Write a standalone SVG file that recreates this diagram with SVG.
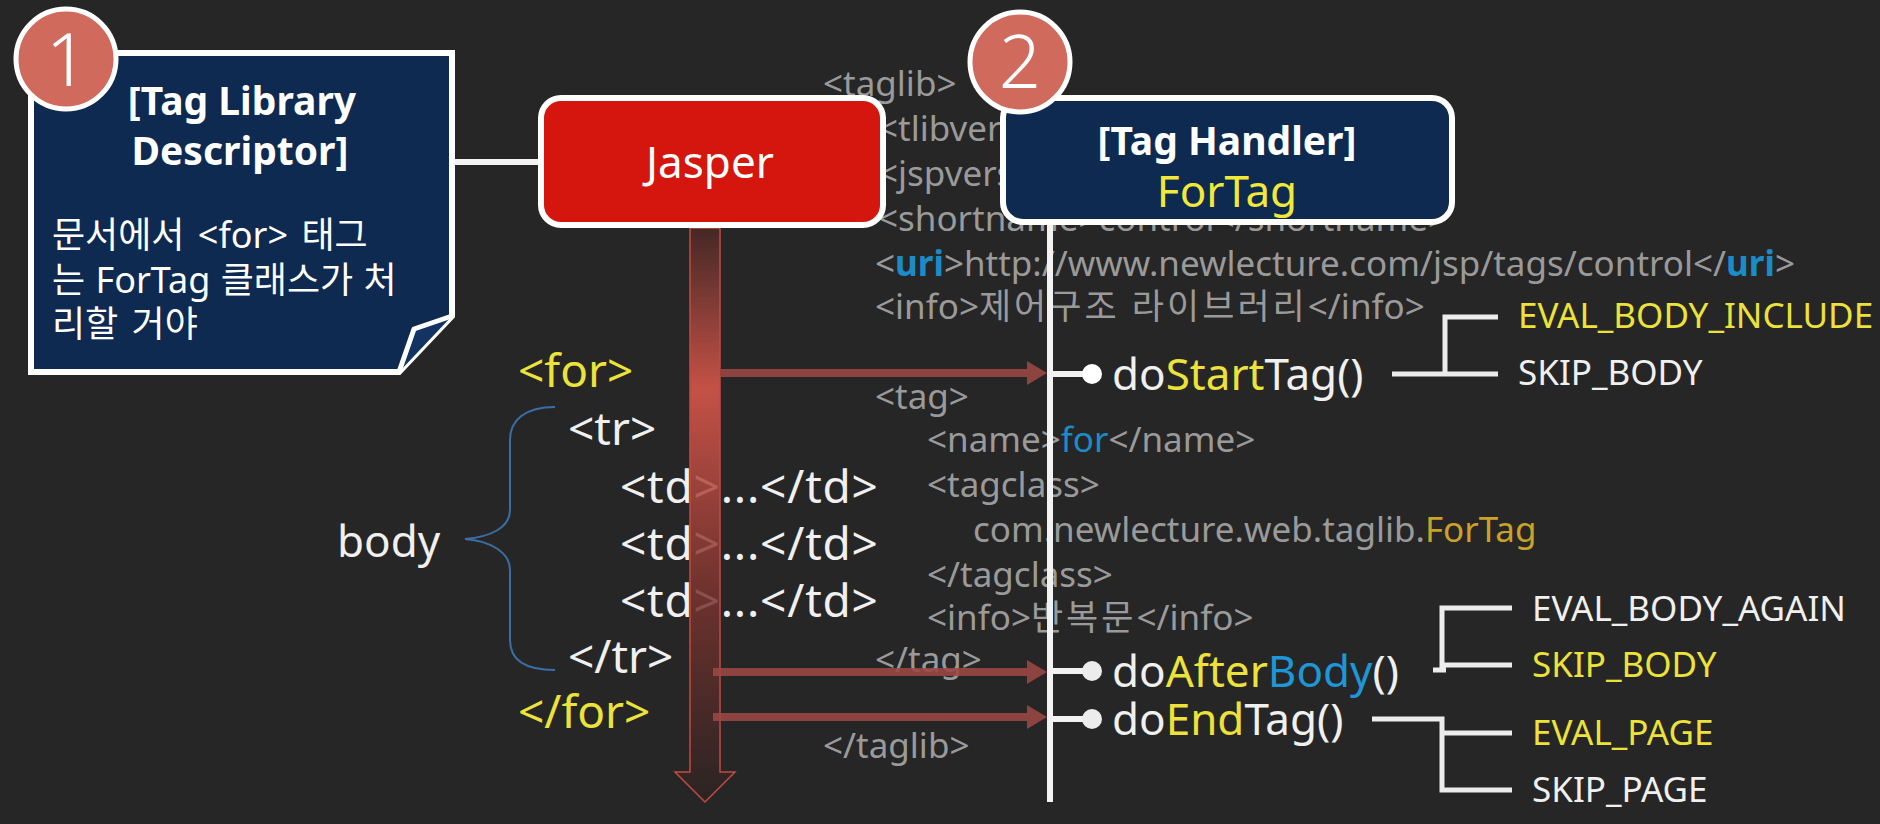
<svg xmlns="http://www.w3.org/2000/svg" width="1880" height="824" viewBox="0 0 1880 824">
<style>
text{font-family:'Noto Sans','Noto Sans CJK KR',sans-serif;}
.code{font-size:35px;fill:#9a9a9a;}
.big{font-size:46px;fill:#f0f0f0;}
.mth{font-size:44px;fill:#f0f0f0;}
.lbl{font-size:35px;fill:#f0f0f0;}
.y{fill:#ece23a;}
.w{fill:#f0f0f0;}
.bl{fill:#1a8cc8;}
.gold{fill:#c9a227;}
.num{font-size:74px;fill:#ffffff;text-anchor:middle;font-weight:300;}
.ttl{font-size:39px;font-weight:bold;fill:#ffffff;text-anchor:middle;}
.ko{font-size:36px;fill:#ffffff;}
.arr{stroke:#9c4844;stroke-width:8;fill:none;opacity:0.88;}
.wl{stroke:#f2f2f2;stroke-width:6;fill:none;}
.br{stroke:#ececec;stroke-width:5;fill:none;}
.dot{fill:#ececec;}
.badge{fill:#cf6a5c;stroke:#ffffff;stroke-width:5;}
</style>
<defs>
<marker id="ah" viewBox="0 0 20 24" refX="0" refY="12" markerWidth="20" markerHeight="24" markerUnits="userSpaceOnUse" orient="auto">
<path d="M0,0 L20,12 L0,24 Z" fill="#9c4844"/>
</marker>
<linearGradient id="shaft" gradientUnits="userSpaceOnUse" x1="0" y1="228" x2="0" y2="802">
<stop offset="0" stop-color="#4a2826"/>
<stop offset="0.28" stop-color="#e0594c"/>
<stop offset="0.62" stop-color="#7e3530"/>
<stop offset="1" stop-color="#2a2322"/>
</linearGradient>
</defs>
<rect width="1880" height="824" fill="#262626"/>

<g id="code-text">
<text class="code" x="823" y="96">&lt;taglib&gt;</text>
<text class="code" x="878" y="141">&lt;tlibver</text>
<text class="code" x="878" y="186">&lt;jspvers</text>
<text class="code" x="878" y="231">&lt;shortname&gt;control&lt;/shortname&gt;</text>
<text class="code" x="875" y="276">&lt;<tspan class="bl" font-weight="bold">uri</tspan>&gt;http://www.newlecture.com/jsp/tags/control&lt;/<tspan class="bl" font-weight="bold">uri</tspan>&gt;</text>
<text class="code" x="875" y="319">&lt;info&gt;<tspan letter-spacing="3">제어구조 라이브러리</tspan>&lt;/info&gt;</text>
<text class="code" x="875" y="409">&lt;tag&gt;</text>
<text class="code" x="927" y="452">&lt;name&gt;<tspan class="bl">for</tspan>&lt;/name&gt;</text>
<text class="code" x="927" y="497">&lt;tagclass&gt;</text>
<text class="code" x="973" y="542" font-size="34">com.newlecture.web.taglib.<tspan class="gold">ForTag</tspan></text>
<text class="code" x="927" y="587">&lt;/tagclass&gt;</text>
<text class="code" x="927" y="630">&lt;info&gt;<tspan letter-spacing="3">반복문</tspan>&lt;/info&gt;</text>
<text class="code" x="875" y="672">&lt;/tag&gt;</text>
<text class="code" x="823" y="758">&lt;/taglib&gt;</text>
</g>

<g id="jsp-source">
<text class="big y" x="518" y="387">&lt;for&gt;</text>
<text class="big" x="568" y="445">&lt;tr&gt;</text>
<text class="big" x="620" y="503" letter-spacing="0.8">&lt;td&gt;...&lt;/td&gt;</text>
<text class="big" x="620" y="560" letter-spacing="0.8">&lt;td&gt;...&lt;/td&gt;</text>
<text class="big" x="620" y="617" letter-spacing="0.8">&lt;td&gt;...&lt;/td&gt;</text>
<text class="big" x="568" y="673">&lt;/tr&gt;</text>
<text class="big y" x="518" y="728">&lt;/for&gt;</text>
</g>

<g id="body-brace">
<path d="M555,407 C525,407 510,420 510,440 L510,510 C510,528 490,537 465,539 C490,541 510,552 510,570 L510,640 C510,660 525,670 555,670" fill="none" stroke="#3a6ea5" stroke-width="2"/>
<text class="mth" x="337" y="557">body</text>
</g>

<g id="connectors">
<line x1="452" y1="162" x2="541" y2="162" class="wl"/>
<path d="M690,228 H720 V772 H735 L705,802 L675,772 H690 Z" fill="url(#shaft)" fill-opacity="0.85" stroke="#c44a40" stroke-width="1.5"/>
<line x1="721" y1="373" x2="1027" y2="373" class="arr" marker-end="url(#ah)"/>
<line x1="713" y1="672" x2="1027" y2="672" class="arr" marker-end="url(#ah)"/>
<line x1="713" y1="717" x2="1027" y2="717" class="arr" marker-end="url(#ah)"/>
<line x1="1050" y1="222" x2="1050" y2="802" class="wl"/>
<line x1="1050" y1="374" x2="1092" y2="374" class="wl"/>
<line x1="1050" y1="671" x2="1092" y2="671" class="wl" stroke="#dcdcdc"/>
<line x1="1050" y1="719" x2="1092" y2="719" class="wl" stroke="#dcdcdc"/>
<circle cx="1092" cy="374" r="10" fill="#ffffff"/>
<circle cx="1092" cy="671" r="10" class="dot"/>
<circle cx="1092" cy="719" r="10" class="dot"/>
<path d="M1392,374 H1498 M1445,374 V317 H1498" class="br" stroke="#ffffff"/>
<path d="M1512,608 H1442 V665 H1512 M1433,670 H1446" class="br"/>
<path d="M1372,719 H1442 V790 H1512 M1442,733 H1512" class="br"/>
</g>

<g id="methods">
<text class="mth" x="1112" y="390">do<tspan class="y">Start</tspan>Tag()</text>
<text class="mth" x="1112" y="687">do<tspan class="y">After</tspan><tspan fill="#1e96d8">Body</tspan>()</text>
<text class="mth" x="1112" y="735">do<tspan class="y">End</tspan>Tag()</text>
</g>

<g id="return-values">
<text class="lbl y" x="1518" y="328">EVAL_BODY_INCLUDE</text>
<text class="lbl" x="1518" y="385">SKIP_BODY</text>
<text class="lbl" x="1532" y="621">EVAL_BODY_AGAIN</text>
<text class="lbl y" x="1532" y="677">SKIP_BODY</text>
<text class="lbl y" x="1532" y="745">EVAL_PAGE</text>
<text class="lbl" x="1532" y="802">SKIP_PAGE</text>
</g>

<g id="node-tld">
<path d="M31,53 H452 V316 L399,372 H31 Z" fill="#0e2a50" stroke="#ffffff" stroke-width="6" stroke-linejoin="miter"/>
<path d="M452,316 L414,329 L399,372" fill="#123363" stroke="#ffffff" stroke-width="5" stroke-linejoin="round"/>
<text class="ttl" x="242" y="115">[Tag Library</text>
<text class="ttl" x="240" y="165">Descriptor]</text>
<text class="ko" x="52" y="248" word-spacing="4">문서에서 &lt;for&gt; 태그</text>
<text class="ko" x="52" y="293" word-spacing="1">는 ForTag 클래스가 처</text>
<text class="ko" x="52" y="337" word-spacing="4">리할 거야</text>
<circle cx="66" cy="59" r="50" class="badge"/>
<text class="num" x="67" y="86">1</text>
</g>

<g id="node-jasper">
<rect x="541" y="98" width="342" height="127" rx="20" fill="#d4160e" stroke="#ffffff" stroke-width="6"/>
<text x="710" y="178" font-size="44" fill="#ffffff" text-anchor="middle">Jasper</text>
</g>

<g id="node-handler">
<rect x="1003" y="98" width="449" height="124" rx="20" fill="#0e2a50" stroke="#ffffff" stroke-width="6"/>
<text class="ttl" x="1227" y="155">[Tag Handler]</text>
<text x="1227" y="207" font-size="44" fill="#f2e83a" text-anchor="middle">ForTag</text>
<circle cx="1020" cy="62" r="50" class="badge"/>
<text class="num" x="1020" y="88">2</text>
</g>
</svg>
